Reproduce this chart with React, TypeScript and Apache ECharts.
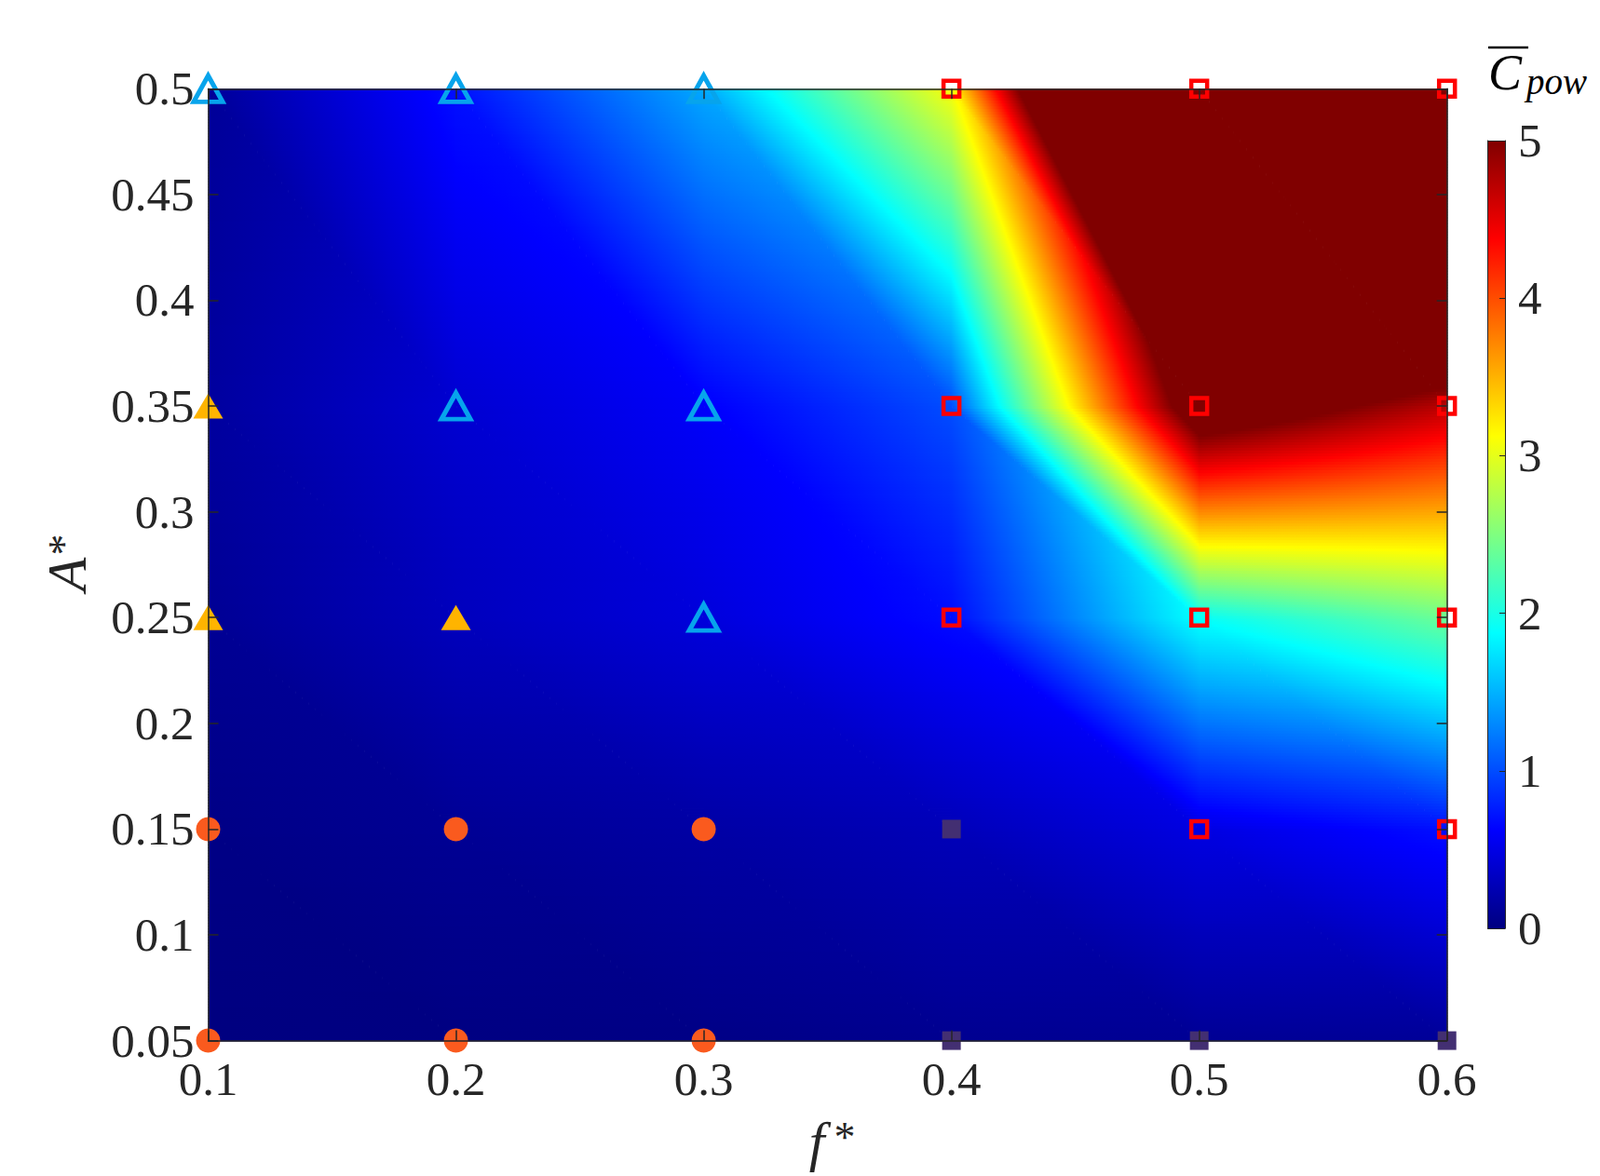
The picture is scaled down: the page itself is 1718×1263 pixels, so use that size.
import React, { useEffect, useRef } from "react";
import * as echarts from "echarts";

// ---- data ----
const fValues = [0.1, 0.2, 0.3, 0.4, 0.5, 0.6];
const aValues = [0.05, 0.15, 0.25, 0.35, 0.5];
// C_pow values, one row per A* (bottom to top), one column per f*
const cpowA005 = [0.0, 0.01, 0.03, 0.08, 0.1, 0.12];
const cpowA015 = [0.03, 0.1, 0.18, 0.28, 0.48, 0.7];
const cpowA025 = [0.1, 0.3, 0.45, 0.68, 1.9, 2.4];
const cpowA035 = [0.15, 0.4, 0.6, 1.0, 5.5, 4.7];
const cpowA050 = [0.12, 0.7, 1.45, 3.1, 10.2, 10.0];
const cpowRows = [cpowA005, cpowA015, cpowA025, cpowA035, cpowA050];

const xTicks = [0.1, 0.2, 0.3, 0.4, 0.5, 0.6];
const yTicks = [0.05, 0.1, 0.15, 0.2, 0.25, 0.3, 0.35, 0.4, 0.45, 0.5];
const colorbarTicks = [0, 1, 2, 3, 4, 5];
const cMin = 0;
const cMax = 5;

const openTriangles = [[0.1, 0.5], [0.2, 0.5], [0.3, 0.5], [0.2, 0.35], [0.3, 0.35], [0.3, 0.25]];
const filledTriangles = [[0.1, 0.35], [0.1, 0.25], [0.2, 0.25]];
const filledCircles = [[0.1, 0.15], [0.2, 0.15], [0.3, 0.15], [0.1, 0.05], [0.2, 0.05], [0.3, 0.05]];
const filledSquares = [[0.4, 0.15], [0.4, 0.05], [0.5, 0.05], [0.6, 0.05]];
const openSquares = [
  [0.4, 0.5], [0.5, 0.5], [0.6, 0.5],
  [0.4, 0.35], [0.5, 0.35], [0.6, 0.35],
  [0.4, 0.25], [0.5, 0.25], [0.6, 0.25],
  [0.5, 0.15], [0.6, 0.15],
];

// ---- helpers ----
const clamp = (v: number, a: number, b: number) => Math.max(a, Math.min(b, v));
function jet(t: number): string {
  t = clamp(t, 0, 1);
  let r = 0, g = 0, b = 0;
  if (t < 0.125) { r = 0; g = 0; b = 0.5 + 4 * t; }
  else if (t < 0.375) { r = 0; g = 4 * (t - 0.125); b = 1; }
  else if (t < 0.625) { r = 4 * (t - 0.375); g = 1; b = 1 - 4 * (t - 0.375); }
  else if (t < 0.875) { r = 1; g = 1 - 4 * (t - 0.625); b = 0; }
  else { r = 1 - 4 * (t - 0.875); g = 0; b = 0; }
  const c = (x: number) => Math.round(clamp(x, 0, 1) * 255);
  return `rgb(${c(r)},${c(g)},${c(b)})`;
}
const jetBreaks = [0, 0.125, 0.375, 0.625, 0.875, 1].map((t) => cMin + t * (cMax - cMin));
const toT = (v: number) => (v - cMin) / (cMax - cMin);

function segmentStops(v0: number, v1: number) {
  const ss = [0, 1];
  for (const b of jetBreaks) {
    if ((b - v0) * (b - v1) < 0) ss.push((b - v0) / (v1 - v0));
  }
  ss.sort((a, b) => a - b);
  return ss.map((s) => ({ offset: s, color: jet(toT(v0 + (v1 - v0) * s)) }));
}

// Linear interpolation on a triangulated grid (diagonal from top-left to bottom-right of
// each cell; one cell uses bilinear interpolation). Along a horizontal row the value is
// piecewise linear, so each row piece is drawn as a strip with an exact jet gradient.
const bilinearCells = ["4,2"];
function buildStrips() {
  const out: number[][] = [];
  const aMin = aValues[0];
  const aMax = aValues[aValues.length - 1];
  const NR = 340;
  const dA = (aMax - aMin) / NR;
  for (let k = 0; k < NR; k++) {
    const a0 = aMin + k * dA;
    const a1 = a0 + dA;
    const am = (a0 + a1) / 2;
    let j = 0;
    while (j < aValues.length - 2 && am > aValues[j + 1]) j++;
    const v = (am - aValues[j]) / (aValues[j + 1] - aValues[j]);
    for (let i = 0; i < fValues.length - 1; i++) {
      const z00 = cpowRows[j][i], z10 = cpowRows[j][i + 1];
      const z01 = cpowRows[j + 1][i], z11 = cpowRows[j + 1][i + 1];
      const fL = fValues[i], fR = fValues[i + 1];
      const zLeft = z00 + v * (z01 - z00);
      const zRight = z10 + v * (z11 - z10);
      if (bilinearCells.includes(`${i},${j}`)) {
        out.push([fL, fR, a0, a1, zLeft, zRight]);
        continue;
      }
      const us = 1 - v;
      const fD = fL + us * (fR - fL);
      const zDiag = (1 - v) * z10 + v * z01;
      if (fD - fL > 1e-9) out.push([fL, fD, a0, a1, zLeft, zDiag]);
      if (fR - fD > 1e-9) out.push([fD, fR, a0, a1, zDiag, zRight]);
    }
  }
  return out;
}

const fmt = (v: number) => String(+Number(v).toFixed(2));

const FONT = "'Liberation Serif', 'Times New Roman', serif";
const AX = "#262626";

export default function App() {
  const ref = useRef<HTMLDivElement>(null);
  useEffect(() => {
    document.body.style.margin = "0";
    if (!ref.current) return;
    const chart = echarts.init(ref.current, undefined, { renderer: "svg" });

    const strips = buildStrips();
    const G = { left: 223.5, top: 95.3, width: 1330.2, height: 1022.3 };
    const CB = { left: 1597.5, top: 151, width: 18.5, height: 846 };

    const mainAxisCommon = {
      min: fValues[0],
      max: fValues[fValues.length - 1],
      interval: 0.1,
      splitLine: { show: false },
      axisLine: { show: true, onZero: false, lineStyle: { color: AX, width: 1.5 } },
      axisTick: { show: true, inside: true, length: 11, lineStyle: { color: AX, width: 1.5 } },
      z: 10,
    };
    const yAxisCommon = {
      min: aValues[0],
      max: aValues[aValues.length - 1],
      interval: 0.05,
      splitLine: { show: false },
      axisLine: { show: true, onZero: false, lineStyle: { color: AX, width: 1.5 } },
      axisTick: { show: true, inside: true, length: 11, lineStyle: { color: AX, width: 1.5 } },
      z: 10,
    };

    const option: any = {
      animation: false,
      backgroundColor: "#ffffff",
      grid: [
        { ...G, outerBoundsMode: "none", containLabel: false },
        { ...CB, outerBoundsMode: "none", containLabel: false },
      ],
      xAxis: [
        {
          ...mainAxisCommon, type: "value", gridIndex: 0, position: "bottom",
          axisLabel: {
            show: true, margin: 16, color: AX, fontFamily: FONT, fontSize: 51,
            formatter: (v: number) => (xTicks.some((t) => Math.abs(t - v) < 1e-6) ? fmt(v) : ""),
          },
        },
        { ...mainAxisCommon, type: "value", gridIndex: 0, position: "top", axisLabel: { show: false } },
        {
          type: "value", gridIndex: 1, min: 0, max: 1, position: "bottom", z: 10,
          axisLine: { show: true, onZero: false, lineStyle: { color: AX, width: 1 } },
          axisTick: { show: false }, axisLabel: { show: false }, splitLine: { show: false },
        },
        {
          type: "value", gridIndex: 1, min: 0, max: 1, position: "top", z: 10,
          axisLine: { show: true, onZero: false, lineStyle: { color: AX, width: 1 } },
          axisTick: { show: false }, axisLabel: { show: false }, splitLine: { show: false },
        },
      ],
      yAxis: [
        {
          ...yAxisCommon, type: "value", gridIndex: 0, position: "left",
          axisLabel: {
            show: true, margin: 15, color: AX, fontFamily: FONT, fontSize: 51,
            formatter: (v: number) => (yTicks.some((t) => Math.abs(t - v) < 1e-6) ? fmt(v) : ""),
          },
        },
        { ...yAxisCommon, type: "value", gridIndex: 0, position: "right", axisLabel: { show: false } },
        {
          type: "value", gridIndex: 1, min: cMin, max: cMax, interval: 1, position: "right", z: 10,
          axisLine: { show: true, onZero: false, lineStyle: { color: AX, width: 1 } },
          axisTick: { show: true, inside: true, length: 6, lineStyle: { color: AX, width: 1 } },
          axisLabel: {
            show: true, margin: 14, color: AX, fontFamily: FONT, fontSize: 51,
            formatter: (v: number) => (colorbarTicks.includes(Math.round(v)) ? String(Math.round(v)) : ""),
          },
          splitLine: { show: false },
        },
        {
          type: "value", gridIndex: 1, min: cMin, max: cMax, position: "left", z: 10,
          axisLine: { show: true, onZero: false, lineStyle: { color: AX, width: 1 } },
          axisTick: { show: false }, axisLabel: { show: false }, splitLine: { show: false },
        },
      ],
      series: [
        {
          type: "custom",
          name: "Cpow",
          xAxisIndex: 0,
          yAxisIndex: 0,
          z: 1,
          silent: true,
          clip: true,
          encode: { x: [0, 1], y: [2, 3] },
          data: strips,
          renderItem: (params: any, api: any) => {
            const f0 = api.value(0), f1 = api.value(1), a0 = api.value(2), a1 = api.value(3);
            const v0 = api.value(4), v1 = api.value(5);
            const p0 = api.coord([f0, a1]);
            const p1 = api.coord([f1, a0]);
            return {
              type: "rect",
              shape: { x: p0[0], y: p0[1], width: p1[0] - p0[0] + 0.6, height: p1[1] - p0[1] + 0.9 },
              style: { fill: new echarts.graphic.LinearGradient(0, 0, 1, 0, segmentStops(v0, v1)) },
            };
          },
        },
        {
          type: "custom",
          name: "colorbar",
          xAxisIndex: 2,
          yAxisIndex: 2,
          z: 1,
          silent: true,
          encode: { x: [0, 1], y: [2, 3] },
          data: [[0, 1, cMin, cMax]],
          renderItem: (params: any, api: any) => {
            const p0 = api.coord([api.value(0), api.value(3)]);
            const p1 = api.coord([api.value(1), api.value(2)]);
            const stops = [0, 0.125, 0.375, 0.625, 0.875, 1].map((t) => ({ offset: t, color: jet(t) }));
            return {
              type: "rect",
              shape: { x: p0[0], y: p0[1], width: p1[0] - p0[0], height: p1[1] - p0[1] },
              style: { fill: new echarts.graphic.LinearGradient(0, 1, 0, 0, stops) },
            };
          },
        },
        {
          type: "scatter", name: "open triangles", xAxisIndex: 0, yAxisIndex: 0, z: 3, clip: false,
          symbol: "triangle", symbolSize: [31, 28], data: openTriangles,
          itemStyle: { color: "rgba(0,0,0,0)", borderColor: "#07A4EC", borderWidth: 5, opacity: 1 },
        },
        {
          type: "scatter", name: "filled triangles", xAxisIndex: 0, yAxisIndex: 0, z: 3, clip: false,
          symbol: "triangle", symbolSize: [32, 27], data: filledTriangles,
          itemStyle: { color: "#FFB400", opacity: 1 },
        },
        {
          type: "scatter", name: "circles", xAxisIndex: 0, yAxisIndex: 0, z: 3, clip: false,
          symbol: "circle", symbolSize: 26, data: filledCircles,
          itemStyle: { color: "#FA5A1E", opacity: 1 },
        },
        {
          type: "scatter", name: "filled squares", xAxisIndex: 0, yAxisIndex: 0, z: 3, clip: false,
          symbol: "rect", symbolSize: 20, data: filledSquares,
          itemStyle: { color: "#432F72", opacity: 1 },
        },
        {
          type: "scatter", name: "open squares", xAxisIndex: 0, yAxisIndex: 0, z: 3, clip: false,
          symbol: "rect", symbolSize: 17, data: openSquares,
          itemStyle: { color: "rgba(0,0,0,0)", borderColor: "#FF0000", borderWidth: 4.5, opacity: 1 },
        },
      ],
      graphic: [
        // x-axis title f*
        {
          type: "text", x: 877, y: 1226, z: 20,
          style: { text: "f", font: `italic 60px ${FONT}`, fill: AX, align: "center", verticalAlign: "middle" },
        },
        {
          type: "text", x: 907, y: 1221, z: 20,
          style: { text: "*", font: `46px ${FONT}`, fill: AX, align: "center", verticalAlign: "middle" },
        },
        // y-axis title A*
        {
          type: "text", x: 72, y: 617, rotation: Math.PI / 2, z: 20,
          style: { text: "A", font: `italic 60px ${FONT}`, fill: AX, align: "center", verticalAlign: "middle" },
        },
        {
          type: "text", x: 68, y: 585, rotation: Math.PI / 2, z: 20,
          style: { text: "*", font: `46px ${FONT}`, fill: AX, align: "center", verticalAlign: "middle" },
        },
        // colorbar title  C̄_pow
        {
          type: "text", x: 1598, y: 78, z: 20,
          style: { text: "C", font: `italic 54px ${FONT}`, fill: "#000", align: "left", verticalAlign: "middle" },
        },
        {
          type: "line", z: 20,
          shape: { x1: 1598, y1: 51, x2: 1641, y2: 51 },
          style: { stroke: "#000", lineWidth: 2.5 },
        },
        {
          type: "text", x: 1639, y: 87, z: 20,
          style: { text: "pow", font: `italic 39px ${FONT}`, fill: "#000", align: "left", verticalAlign: "middle" },
        },
      ],
    };
    chart.setOption(option);
    return () => chart.dispose();
  }, []);
  return <div ref={ref} style={{ width: 1718, height: 1263 }} />;
}
